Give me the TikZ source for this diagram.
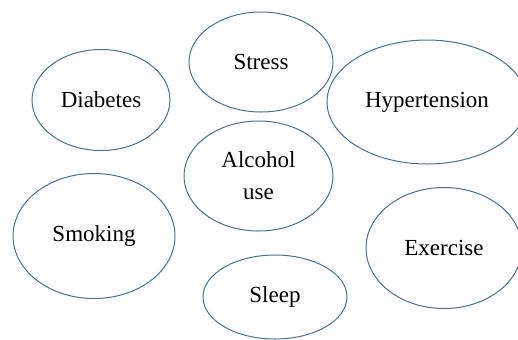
\documentclass[tikz,border=0pt]{standalone}
\usepackage{fontspec}
\setmainfont{Liberation Serif}
\usetikzlibrary{shapes.geometric}
\definecolor{ovalblue}{RGB}{65,113,156}
\tikzstyle{oval}=[ellipse,draw=ovalblue,line width=0.5pt,inner sep=0pt,align=center,
  font=\fontsize{11.5}{16}\selectfont]

\begin{document}
\begin{tikzpicture}[x=0.5pt,y=-0.5pt]
  \useasboundingbox (0,0) rectangle (518,339);
  \begin{scope}
  \clip (0,0) rectangle (518,339);
  \node[oval,minimum width=72pt,minimum height=50pt] (stress) at (261,62) {Stress};
  \node[oval,minimum width=69pt,minimum height=50.5pt] (diabetes) at (101,100) {Diabetes};
  \node[oval,minimum width=100pt,minimum height=62pt] (hypertension) at (427,102) {Hypertension};
  \node[oval,minimum width=74.5pt,minimum height=55pt] (alcohol) at (258.5,176) {Alcohol\\use};
  \node[oval,minimum width=81pt,minimum height=62.5pt] (smoking) at (94,236) {Smoking};
  \node[oval,minimum width=78pt,minimum height=60.5pt] (exercise) at (444,248) {Exercise};
  \node[oval,minimum width=72pt,minimum height=42pt] (sleep) at (275,297) {Sleep};
  \end{scope}
\end{tikzpicture}
\end{document}
